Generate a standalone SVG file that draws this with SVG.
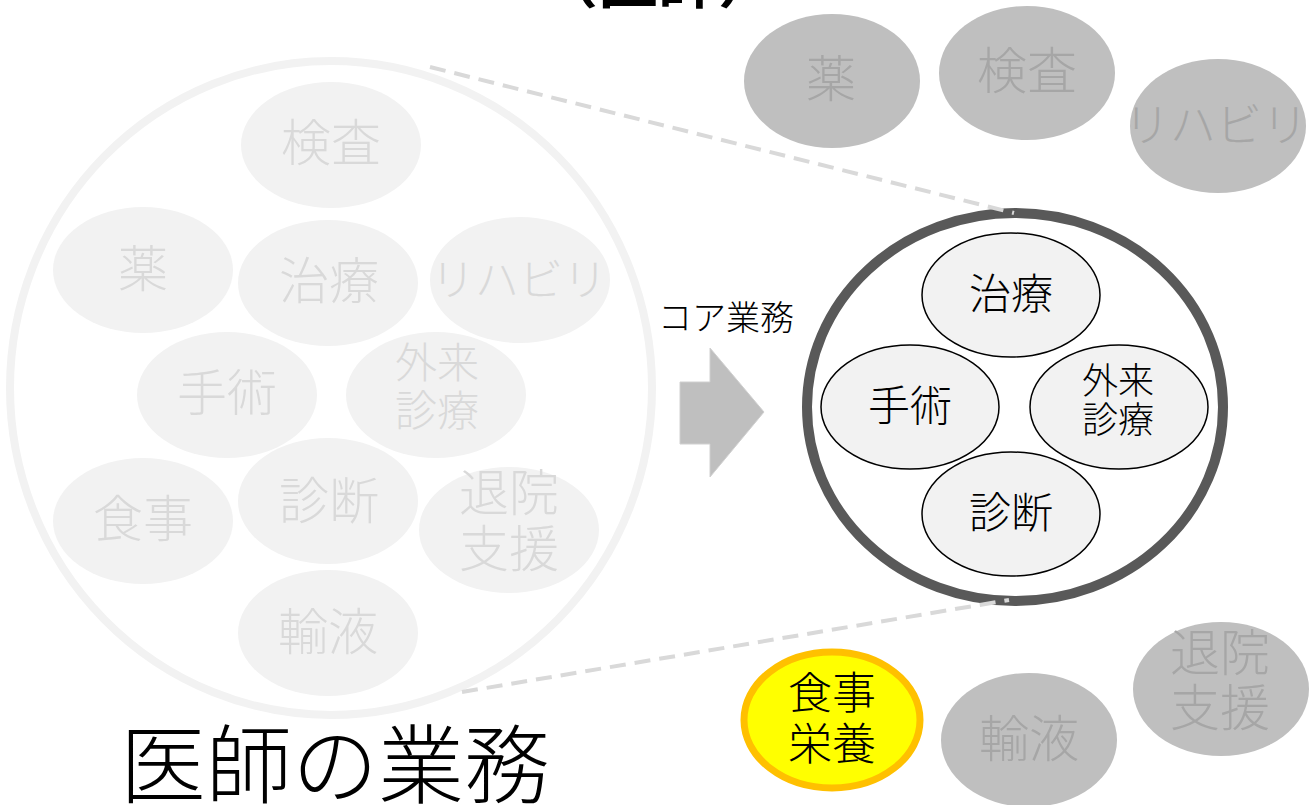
<svg xmlns="http://www.w3.org/2000/svg" width="1311" height="805" viewBox="0 0 1311 805">
<style>
text{font-family:"Noto Sans CJK JP","Noto Sans CJK SC",sans-serif;text-anchor:middle;font-weight:300}
.lf{fill:#f2f2f2}
.lt{fill:#d9d9d9;font-size:50px}
.lt2{fill:#d9d9d9;font-size:42px}
.gf{fill:#bfbfbf}
.gt{fill:#a6a6a6;font-size:50px}
.cf{fill:#f2f2f2;stroke:#000;stroke-width:1.5}
.ct{fill:#000;font-size:42px}
.ct2{fill:#000;font-size:36px}
.dash{stroke:#d9d9d9;stroke-width:4;stroke-dasharray:16 9;fill:none}
</style>
<rect width="1311" height="805" fill="#fff"/>
<text x="658" y="3" style="font-size:60px;font-weight:bold" fill="#000">（医師）</text>
<g id="all-tasks">
<ellipse cx="331" cy="388" rx="321" ry="327" fill="#fff" stroke="#f2f2f2" stroke-width="8"/>
</g>
<g id="l-kensa"><ellipse class="lf" cx="331" cy="145" rx="90" ry="63"/><text class="lt" x="331" y="161">検査</text></g>
<g id="l-kusuri"><ellipse class="lf" cx="143" cy="270" rx="90" ry="63"/><text class="lt" x="143" y="287">薬</text></g>
<g id="l-chiryo"><ellipse class="lf" cx="328" cy="283" rx="90" ry="63"/><text class="lt" x="329" y="299">治療</text></g>
<g id="l-reha"><ellipse class="lf" cx="520" cy="280" rx="90" ry="63"/><text class="lt" style="font-size:44px" x="519" y="296">リハビリ</text></g>
<g id="l-shujutsu"><ellipse class="lf" cx="227" cy="395" rx="90" ry="63"/><text class="lt" x="227" y="411">手術</text></g>
<g id="l-gairai"><ellipse class="lf" cx="436" cy="395" rx="90" ry="63"/><text class="lt2" x="437" y="378">外来</text><text class="lt2" x="437" y="426">診療</text></g>
<g id="l-shokuji"><ellipse class="lf" cx="143" cy="521" rx="90" ry="63"/><text class="lt" x="143" y="537">食事</text></g>
<g id="l-shindan"><ellipse class="lf" cx="328" cy="501" rx="90" ry="63"/><text class="lt" x="329" y="519">診断</text></g>
<g id="l-taiin"><ellipse class="lf" cx="509" cy="530" rx="90" ry="63"/><text class="lt" x="509" y="511">退院</text><text class="lt" x="509" y="567">支援</text></g>
<g id="l-yueki"><ellipse class="lf" cx="328" cy="633" rx="90" ry="63"/><text class="lt" x="328" y="650">輸液</text></g>
<text x="335" y="797" style="font-size:86px" fill="#000">医師の業務</text>
<g id="arrow">
<polygon points="680,382 710,382 710,348 764,412 710,477 710,444 680,444" fill="#bfbfbf" stroke="#d0d0d0" stroke-width="1"/>
<text x="726" y="330" style="font-size:34px" fill="#000">コア業務</text>
</g>
<g id="core">
<ellipse cx="1015" cy="407" rx="208" ry="194" fill="#fff" stroke="#595959" stroke-width="10"/>
</g>
<g id="c-chiryo"><ellipse class="cf" cx="1011" cy="295" rx="89" ry="62"/><text class="ct" x="1011" y="309">治療</text></g>
<g id="c-shujutsu"><ellipse class="cf" cx="910" cy="407" rx="89" ry="62"/><text class="ct" x="910" y="421">手術</text></g>
<g id="c-gairai"><ellipse class="cf" cx="1119" cy="407" rx="89" ry="62"/><text class="ct2" x="1118" y="394">外来</text><text class="ct2" x="1118" y="433">診療</text></g>
<g id="c-shindan"><ellipse class="cf" cx="1011" cy="514" rx="89" ry="62"/><text class="ct" x="1011" y="528">診断</text></g>
<g id="connectors">
<line class="dash" x1="430" y1="67" x2="1014" y2="213"/>
<line class="dash" x1="462" y1="692" x2="1009" y2="600"/>
</g>
<g id="r-kusuri"><ellipse class="gf" cx="832" cy="81" rx="88" ry="67"/><text class="gt" x="831" y="97">薬</text></g>
<g id="r-kensa"><ellipse class="gf" cx="1027" cy="73" rx="88" ry="67"/><text class="gt" x="1027" y="89">検査</text></g>
<g id="r-reha"><ellipse class="gf" cx="1218" cy="126" rx="88" ry="67"/><text class="gt" style="font-size:46px" x="1216" y="141">リハビリ</text></g>
<g id="r-shokuji"><ellipse cx="832" cy="720" rx="88" ry="68" fill="#ffff00" stroke="#ffc000" stroke-width="7"/><text class="ct" style="font-size:44px" x="832" y="709">食事</text><text class="ct" style="font-size:44px" x="832" y="760">栄養</text></g>
<g id="r-yueki"><ellipse class="gf" cx="1029" cy="740" rx="88" ry="67"/><text class="gt" x="1029" y="757">輸液</text></g>
<g id="r-taiin"><ellipse class="gf" cx="1221" cy="689" rx="88" ry="67"/><text class="gt" x="1220" y="671">退院</text><text class="gt" x="1220" y="726">支援</text></g>
</svg>
